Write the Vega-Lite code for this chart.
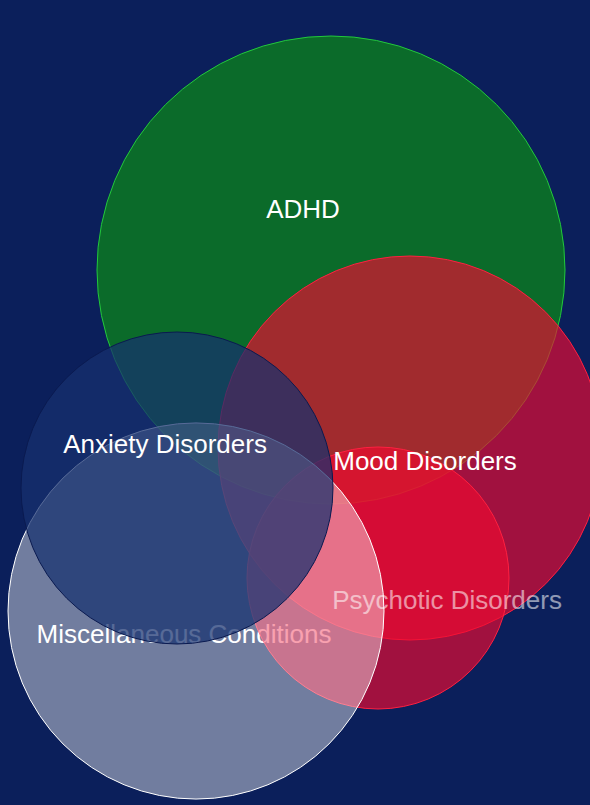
{
  "$schema": "https://vega.github.io/schema/vega-lite/v6.json",
  "width": 590,
  "height": 805,
  "autosize": {"type": "fit", "contains": "padding"},
  "padding": 0,
  "background": "#0b1f5b",
  "config": {"view": {"stroke": null}},
  "data": {
    "values": [
      {"k": 1, "name": "ADHD", "cx": 331, "cy": 270, "r": 234, "lx": 303, "ly": 210},
      {"k": 2, "name": "Mood Disorders", "cx": 410, "cy": 448, "r": 192, "lx": 425, "ly": 462},
      {"k": 3, "name": "Psychotic Disorders", "cx": 378, "cy": 578, "r": 131, "lx": 447, "ly": 601},
      {"k": 4, "name": "Miscellaneous Conditions", "cx": 196, "cy": 611, "r": 188, "lx": 184, "ly": 635},
      {"k": 5, "name": "Anxiety Disorders", "cx": 177, "cy": 488, "r": 156, "lx": 165, "ly": 445}
    ]
  },
  "layer": [
    {
      "transform": [{"filter": {"field": "name", "oneOf": ["Miscellaneous Conditions"]}}],
      "mark": {"type": "text", "font": "Liberation Sans", "fontSize": 26, "color": "#ffffff", "align": "center", "baseline": "middle"},
      "encoding": {
        "x": {"field": "lx", "type": "quantitative", "scale": {"domain": [0, 590]}, "axis": null},
        "y": {"field": "ly", "type": "quantitative", "scale": {"domain": [0, 805], "reverse": true}, "axis": null},
        "text": {"field": "name"}
      }
    },
    {
      "mark": {"type": "point", "shape": "circle", "filled": true, "opacity": 1, "strokeWidth": 1, "clip": true},
      "encoding": {
        "x": {"field": "cx", "type": "quantitative", "scale": {"domain": [0, 590]}, "axis": null},
        "y": {"field": "cy", "type": "quantitative", "scale": {"domain": [0, 805], "reverse": true}, "axis": null},
        "size": {"field": "r", "type": "quantitative", "scale": {"type": "pow", "exponent": 2, "domain": [0, 100], "range": [0, 40000]}, "legend": null},
        "color": {"field": "name", "type": "nominal", "scale": {"type": "ordinal", "domain": ["ADHD", "Mood Disorders", "Psychotic Disorders", "Miscellaneous Conditions", "Anxiety Disorders"], "range": ["#0c7822", "#f00a30", "#f00a30", "#ffffff", "#16306f"]}, "legend": null},
        "fillOpacity": {"field": "name", "type": "nominal", "scale": {"type": "ordinal", "domain": ["ADHD", "Mood Disorders", "Psychotic Disorders", "Miscellaneous Conditions", "Anxiety Disorders"], "range": [0.86, 0.66, 0.66, 0.42, 0.72]}, "legend": null},
        "stroke": {"field": "name", "type": "nominal", "scale": {"type": "ordinal", "domain": ["ADHD", "Mood Disorders", "Psychotic Disorders", "Miscellaneous Conditions", "Anxiety Disorders"], "range": ["#22c83c", "#ff2040", "#ff2040", "#ffffff", "#0a1a50"]}, "legend": null},
        "order": {"field": "k", "type": "quantitative"}
      }
    },
    {
      "transform": [{"filter": {"field": "name", "oneOf": ["Psychotic Disorders"]}}],
      "mark": {"type": "text", "font": "Liberation Sans", "fontSize": 26, "color": "#ffffff", "opacity": 0.55, "align": "center", "baseline": "middle"},
      "encoding": {
        "x": {"field": "lx", "type": "quantitative", "scale": {"domain": [0, 590]}, "axis": null},
        "y": {"field": "ly", "type": "quantitative", "scale": {"domain": [0, 805], "reverse": true}, "axis": null},
        "text": {"field": "name"}
      }
    },
    {
      "transform": [{"filter": {"field": "name", "oneOf": ["ADHD", "Mood Disorders", "Anxiety Disorders"]}}],
      "mark": {"type": "text", "font": "Liberation Sans", "fontSize": 26, "color": "#ffffff", "align": "center", "baseline": "middle"},
      "encoding": {
        "x": {"field": "lx", "type": "quantitative", "scale": {"domain": [0, 590]}, "axis": null},
        "y": {"field": "ly", "type": "quantitative", "scale": {"domain": [0, 805], "reverse": true}, "axis": null},
        "text": {"field": "name"}
      }
    }
  ]
}
